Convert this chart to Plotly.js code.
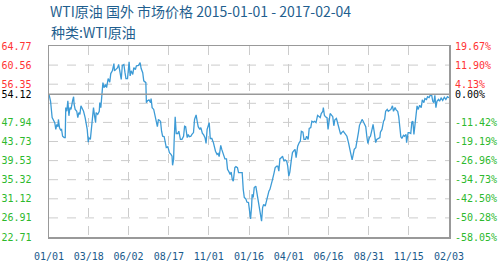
<!DOCTYPE html>
<html>
<head>
<meta charset="utf-8">
<script src="https://cdn.plot.ly/plotly-3.0.1.min.js"></script>
<style>html,body{margin:0;padding:0;background:#fff}#chart{width:498px;height:266px}</style>
</head>
<body>
<div id="chart"></div>
<script>
const dates = [
"2015-01-01","2015-01-04","2015-01-07","2015-01-09","2015-01-12","2015-01-14","2015-01-16","2015-01-18","2015-01-19","2015-01-21",
"2015-01-23","2015-01-25","2015-01-27","2015-01-30","2015-02-01","2015-02-02","2015-02-04","2015-02-06","2015-02-08","2015-02-10",
"2015-02-12","2015-02-15","2015-02-17","2015-02-18","2015-02-20","2015-02-23","2015-02-25","2015-02-27","2015-03-01","2015-03-03",
"2015-03-06","2015-03-08","2015-03-11","2015-03-13","2015-03-15","2015-03-17","2015-03-18","2015-03-21","2015-03-23","2015-03-25",
"2015-03-27","2015-03-29","2015-03-31","2015-04-01","2015-04-04","2015-04-07","2015-04-08","2015-04-10","2015-04-12","2015-04-14",
"2015-04-16","2015-04-19","2015-04-21","2015-04-24","2015-04-27","2015-04-29","2015-05-02","2015-05-05","2015-05-06","2015-05-09",
"2015-05-12","2015-05-14","2015-05-17","2015-05-19","2015-05-21","2015-05-24","2015-05-26","2015-05-28","2015-05-31","2015-06-01",
"2015-06-03","2015-06-05","2015-06-07","2015-06-10","2015-06-12","2015-06-15","2015-06-17","2015-06-21","2015-06-24","2015-06-26",
"2015-06-29","2015-07-01","2015-07-05","2015-07-06","2015-07-08","2015-07-11","2015-07-14","2015-07-15","2015-07-17","2015-07-20",
"2015-07-22","2015-07-24","2015-07-27","2015-07-29","2015-08-02","2015-08-04","2015-08-06","2015-08-09","2015-08-11","2015-08-13",
"2015-08-16","2015-08-19","2015-08-22","2015-08-24","2015-08-25","2015-08-27","2015-08-28","2015-08-30","2015-09-01","2015-09-04",
"2015-09-06","2015-09-09","2015-09-12","2015-09-15","2015-09-17","2015-09-19","2015-09-22","2015-09-24","2015-09-26","2015-09-29",
"2015-10-01","2015-10-04","2015-10-06","2015-10-09","2015-10-11","2015-10-13","2015-10-16","2015-10-18","2015-10-21","2015-10-23",
"2015-10-26","2015-10-28","2015-10-30","2015-11-01","2015-11-03","2015-11-05","2015-11-08","2015-11-11","2015-11-13","2015-11-15",
"2015-11-18","2015-11-20","2015-11-22","2015-11-25","2015-11-27","2015-11-29","2015-12-01","2015-12-03","2015-12-06","2015-12-08",
"2015-12-11","2015-12-13","2015-12-15","2015-12-17","2015-12-19","2015-12-22","2015-12-24","2015-12-27","2015-12-29","2016-01-03",
"2016-01-05","2016-01-07","2016-01-09","2016-01-12","2016-01-14","2016-01-17","2016-01-19","2016-01-21","2016-01-23","2016-01-24",
"2016-01-26","2016-01-28","2016-01-31","2016-02-02","2016-02-04","2016-02-06","2016-02-07","2016-02-09","2016-02-11","2016-02-13",
"2016-02-15","2016-02-18","2016-02-20","2016-02-22","2016-02-25","2016-02-27","2016-03-01","2016-03-03","2016-03-06","2016-03-08",
"2016-03-11","2016-03-13","2016-03-15","2016-03-17","2016-03-20","2016-03-22","2016-03-25","2016-03-27","2016-03-30","2016-04-01",
"2016-04-03","2016-04-05","2016-04-08","2016-04-10","2016-04-12","2016-04-15","2016-04-17","2016-04-20","2016-04-23","2016-04-25",
"2016-04-27","2016-04-30","2016-05-02","2016-05-05","2016-05-07","2016-05-10","2016-05-12","2016-05-15","2016-05-17","2016-05-20",
"2016-05-22","2016-05-25","2016-05-28","2016-05-30","2016-06-02","2016-06-04","2016-06-07","2016-06-08","2016-06-10","2016-06-12",
"2016-06-15","2016-06-17","2016-06-19","2016-06-21","2016-06-24","2016-06-26","2016-06-28","2016-06-30","2016-07-03","2016-07-05",
"2016-07-08","2016-07-11","2016-07-13","2016-07-16","2016-07-18","2016-07-21","2016-07-23","2016-07-26","2016-07-28","2016-07-30",
"2016-08-02","2016-08-04","2016-08-06","2016-08-09","2016-08-11","2016-08-14","2016-08-16","2016-08-19","2016-08-21","2016-08-23",
"2016-08-26","2016-08-28","2016-08-30","2016-09-01","2016-09-04","2016-09-06","2016-09-09","2016-09-11","2016-09-13","2016-09-16",
"2016-09-18","2016-09-21","2016-09-24","2016-09-25","2016-09-28","2016-10-01","2016-10-03","2016-10-05","2016-10-08","2016-10-10",
"2016-10-13","2016-10-15","2016-10-18","2016-10-20","2016-10-23","2016-10-25","2016-10-28","2016-10-30","2016-11-01","2016-11-03",
"2016-11-05","2016-11-08","2016-11-10","2016-11-13","2016-11-14","2016-11-17","2016-11-19","2016-11-22","2016-11-24","2016-11-26",
"2016-11-28","2016-11-30","2016-12-02","2016-12-04","2016-12-06","2016-12-09","2016-12-12","2016-12-14","2016-12-17","2016-12-19",
"2016-12-22","2016-12-24","2016-12-27","2016-12-29","2017-01-01","2017-01-03","2017-01-05","2017-01-07","2017-01-09","2017-01-11",
"2017-01-14","2017-01-16","2017-01-19","2017-01-22","2017-01-25","2017-01-28","2017-01-31","2017-02-03"
];
const prices = [
54.12,52.6,49.0,48.6,47.9,46.4,47.5,47.0,48.6,46.8,
46.3,46.4,44.9,44.6,44.6,51.2,50.4,52.7,49.4,51.2,
50.8,52.7,53.6,51.9,50.8,50.4,49.0,50.1,49.7,51.6,
50.8,50.4,49.0,47.5,46.4,43.6,44.6,44.2,47.1,50.4,
51.2,49.4,47.9,50.1,49.7,50.4,52.3,51.2,54.1,56.7,
55.6,56.3,55.6,57.6,56.8,58.7,59.3,60.9,59.3,59.6,
60.0,60.7,58.9,57.4,60.5,60.7,59.0,57.6,57.6,58.9,
61.3,58.2,59.3,58.5,60.0,59.6,60.4,60.5,61.1,59.8,
58.9,57.1,56.7,52.3,52.7,52.9,52.3,53.2,51.2,50.8,
49.7,48.6,47.0,48.6,48.2,46.0,44.9,44.8,43.5,42.4,
42.6,41.3,40.9,40.5,38.5,39.8,43.8,49.2,45.5,45.5,
46.0,44.2,44.2,44.9,47.1,47.0,44.6,45.3,44.8,44.9,
45.3,45.7,48.6,49.6,48.2,47.0,46.4,46.8,45.5,45.3,
44.6,43.3,46.4,47.1,47.9,44.4,44.4,43.5,42.4,41.6,
40.9,41.1,40.4,42.9,42.0,41.4,40.9,39.9,39.9,37.6,
37.0,36.5,37.0,35.4,35.0,38.0,38.2,38.0,36.9,37.0,
36.9,33.2,31.4,31.1,30.4,30.3,28.8,26.7,29.5,32.1,
31.4,33.6,33.9,32.5,31.7,30.3,29.2,28.1,26.2,29.2,
29.9,29.5,30.6,31.0,32.8,33.2,34.3,35.4,36.9,38.0,
38.3,38.3,37.2,39.9,40.2,40.5,39.4,39.7,39.4,38.3,
36.1,37.0,39.8,41.3,41.6,42.0,40.2,42.7,43.5,43.8,
46.0,45.8,44.2,44.2,44.9,44.2,46.6,46.8,48.2,48.0,
48.2,47.9,49.5,49.3,49.0,49.9,50.4,51.2,49.5,49.2,
49.0,46.4,48.2,49.9,49.5,49.2,47.2,48.5,48.8,47.9,
46.4,45.3,45.7,46.0,45.7,45.3,44.9,43.5,42.0,41.3,
39.7,40.9,42.0,42.4,44.2,45.7,47.3,47.9,48.6,48.2,
47.5,47.0,44.9,43.3,44.6,44.9,46.4,47.5,46.0,43.5,
44.2,44.4,44.6,45.8,46.4,48.2,48.6,50.4,50.8,50.4,
50.7,50.8,51.6,50.4,51.2,50.7,50.4,49.2,47.0,44.8,
44.4,45.1,44.9,45.3,43.5,45.7,45.7,45.5,48.0,48.2,
45.3,47.9,49.5,51.6,50.8,51.7,51.2,52.9,52.3,53.2,
53.0,53.6,53.4,53.9,53.9,52.6,52.3,53.9,51.2,52.6,
53.0,52.6,53.3,52.8,53.5,53.0,53.6,53.4
];
const basePrice = 54.12;
const priceTicks = [22.71,26.91,31.12,35.32,39.53,43.73,47.94,54.12,56.35,60.56,64.77];
const priceLabels = ["22.71","26.91","31.12","35.32","39.53","43.73","47.94","54.12","56.35","60.56","64.77"];
const pctLabels = ["-58.05%","-50.28%","-42.50%","-34.73%","-26.96%","-19.19%","-11.42%","0.00%","4.13%","11.90%","19.67%"];
const dateLabels = ["01/01","03/18","06/02","08/17","11/01","01/16","04/01","06/16","08/31","11/15","02/03"];
const titleText = "WTI原油 国外 市场价格 2015-01-01 - 2017-02-04";
const subTitle = "种类:WTI原油";

const RED = "#ff3333", GREEN = "#2db92d", BLACK = "#000000";
function colorFor(v){ return v > basePrice ? RED : (v < basePrice ? GREEN : BLACK); }
const leftText = priceLabels.map((t,i)=>`<span style="color:${colorFor(priceTicks[i])}">${t}</span>`);
const rightText = pctLabels.map((t,i)=>`<span style="color:${colorFor(priceTicks[i])}">${t}</span>`);

const yMin = priceTicks[0], yMax = priceTicks[priceTicks.length-1];
const xStart = dates[0], xEnd = dates[dates.length-1];
const t0 = Date.parse(xStart+"T00:00:00Z"), t1 = Date.parse(xEnd+"T00:00:00Z");
const nInt = dateLabels.length - 1;
const xTickVals = dateLabels.map((_,k)=> new Date(t0 + k*(t1-t0)/nInt).toISOString().slice(0,10));

const shapes = [];
const step = (yMax - yMin)/10;
for (let k=1;k<10;k++){
  shapes.push({type:'line', xref:'paper', x0:0, x1:1, yref:'y', y0:yMin+k*step, y1:yMin+k*step,
    line:{color:'#cccccc', width:1, dash:'dash'}, layer:'below'});
}
shapes.push({type:'line', xref:'paper', x0:0, x1:1, yref:'y', y0:basePrice, y1:basePrice,
  line:{color:'#999999', width:1.5}, layer:'above'});

const mono = "DejaVu Sans Mono, monospace";
const traces = [
  {x:dates, y:prices, type:'scatter', mode:'lines', line:{color:'#3d9bd6', width:1.3}, hoverinfo:'skip', yaxis:'y'},
  {x:dates, y:prices, type:'scatter', mode:'lines', line:{color:'rgba(0,0,0,0)', width:0}, hoverinfo:'skip', yaxis:'y2', showlegend:false}
];
const layout = {
  width:498, height:266,
  margin:{l:49, r:49, t:46, b:29},
  paper_bgcolor:'#ffffff', plot_bgcolor:'#ffffff',
  showlegend:false,
  title:{text:titleText, x:50/498, xanchor:'left', xref:'container', y:1-12.5/266, yanchor:'middle', yref:'container',
    font:{family:"Noto Sans CJK SC, sans-serif", size:14, color:'#1f5f8f'}},
  annotations:[{text:subTitle, xref:'paper', yref:'paper', x:0, xanchor:'left', y:(237-32)/191, yanchor:'middle',
    showarrow:false, font:{family:"Noto Sans CJK SC, sans-serif", size:14, color:'#1f5f8f'}}],
  xaxis:{type:'date', range:[xStart, xEnd], tickmode:'array', tickvals:xTickVals, ticktext:dateLabels,
    showgrid:true, gridcolor:'#cccccc', griddash:'dash', gridwidth:1, zeroline:false,
    showline:true, mirror:true, linecolor:'#999999', linewidth:1.5,
    ticks:'outside', ticklen:9, tickcolor:'rgba(0,0,0,0)',
    tickfont:{family:mono, size:10, color:'#1a5a8c'}},
  yaxis:{range:[yMin, yMax], tickmode:'array', tickvals:priceTicks, ticktext:leftText,
    showgrid:false, zeroline:false, showline:true, mirror:true, linecolor:'#999999', linewidth:1.5,
    ticks:'outside', ticklen:14, tickcolor:'rgba(0,0,0,0)',
    tickfont:{family:mono, size:10, color:'#000'}},
  yaxis2:{range:[yMin, yMax], overlaying:'y', side:'right', tickmode:'array', tickvals:priceTicks, ticktext:rightText,
    showgrid:false, zeroline:false, showline:false,
    ticks:'outside', ticklen:3, tickcolor:'rgba(0,0,0,0)',
    tickfont:{family:mono, size:10, color:'#000'}},
  shapes:shapes
};
Plotly.newPlot('chart', traces, layout, {staticPlot:true, displayModeBar:false});
</script>
</body>
</html>
